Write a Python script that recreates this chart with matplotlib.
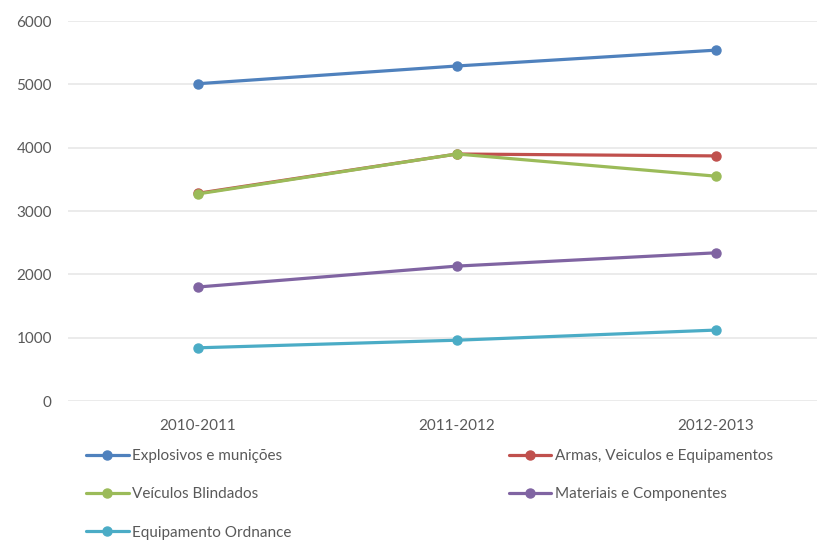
import matplotlib
matplotlib.use("Agg")
import matplotlib.pyplot as plt

periods = ["2010-2011", "2011-2012", "2012-2013"]
explosivos = [5010, 5290, 5540]
armas = [3280, 3900, 3870]
blindados = [3270, 3900, 3550]
materiais = [1800, 2130, 2340]
ordnance = [840, 960, 1120]

y_ticks = [0, 1000, 2000, 3000, 4000, 5000, 6000]

plt.rcParams["font.family"] = ["Lato", "DejaVu Sans"]

text_color = "#595959"
grid_color = "#e8e8e8"

fig = plt.figure(figsize=(8.17, 5.40), dpi=100)
ax = fig.add_axes([0.0838, 0.2574, 0.951, 0.7037])

x = list(range(len(periods)))
series = [
    ("Explosivos e munições", explosivos, "#4F81BD"),
    ("Armas, Veiculos e Equipamentos", armas, "#C0504D"),
    ("Veículos Blindados", blindados, "#9BBB59"),
    ("Materiais e Componentes", materiais, "#8064A2"),
    ("Equipamento Ordnance", ordnance, "#4BACC6"),
]

handles = {}
for name, vals, color in series:
    (ln,) = ax.plot(x, vals, color=color, lw=2.3, marker="o", ms=6.5,
                    solid_capstyle="round", label=name, zorder=3)
    handles[name] = ln

ax.set_xlim(-0.5, len(periods) - 0.5)
ax.set_ylim(0, 6000)
ax.set_yticks(y_ticks)
ax.set_xticks(x)
ax.set_xticklabels(periods)
ax.yaxis.grid(True, color=grid_color, lw=1.2)
ax.set_axisbelow(True)
for s in ax.spines.values():
    s.set_visible(False)
ax.tick_params(axis="both", length=0, colors=text_color, labelsize=11)
ax.tick_params(axis="y", pad=12)
ax.tick_params(axis="x", pad=13)

order = ["Explosivos e munições", "Veículos Blindados", "Equipamento Ordnance",
         "Armas, Veiculos e Equipamentos", "Materiais e Componentes"]
fig.legend([handles[n] for n in order], order, ncol=2, frameon=False,
           loc="upper left", bbox_to_anchor=(0.105, 0.168),
           fontsize=11, labelcolor=text_color, handlelength=2.8,
           handletextpad=0.25, labelspacing=1.58, columnspacing=14.2,
           borderaxespad=0, borderpad=0)

fig.savefig("out.png", dpi=100, facecolor="white")
